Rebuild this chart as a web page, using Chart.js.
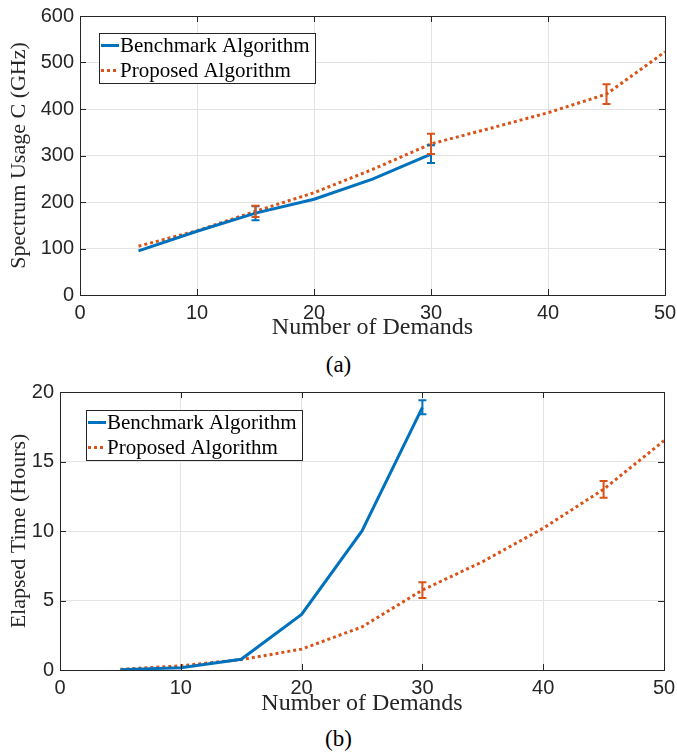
<!DOCTYPE html>
<html>
<head>
<meta charset="utf-8">
<script src="https://cdn.jsdelivr.net/npm/chart.js@4.4.1/dist/chart.umd.min.js"></script>
<style>
  body { margin: 0; background: #fff; width: 677px; height: 754px; position: relative; overflow: hidden; }
  .panel { position: absolute; left: 0; }
  .cap { position: absolute; left: 0; width: 677px; text-align: center;
         font-family: "Liberation Serif", serif; font-size: 23px; color: #000; }
</style>
</head>
<body>
<div class="panel" style="top:0"><canvas id="spectrumChart" width="677" height="345"></canvas></div>
<div class="cap" style="top:352px">(a)</div>
<div class="panel" style="top:375px"><canvas id="timeChart" width="677" height="345"></canvas></div>
<div class="cap" style="top:726px">(b)</div>
<script>
// Data
const demandsBench = [5, 10, 15, 20, 25, 30];
const demandsProp = [5, 10, 15, 20, 25, 30, 35, 40, 45, 50];

const benchSpectrum = [95, 137, 176, 206, 249, 303];
const propSpectrum = [105, 138, 180, 220, 270, 325, 358, 392, 432, 523];
const benchSpectrumErr = [0, 0, 15, 0, 0, 19];
const propSpectrumErr = [0, 0, 12, 0, 0, 22, 0, 0, 21, 0];

const benchTime = [0.02, 0.17, 0.77, 4.0, 10.0, 18.9];
const propTime = [0.05, 0.3, 0.75, 1.5, 3.1, 5.75, 7.8, 10.2, 13.0, 16.5];
const benchTimeErr = [0, 0, 0, 0, 0, 0.5];
const propTimeErr = [0, 0, 0, 0, 0, 0.57, 0, 0, 0.6, 0];

const blue = '#0072BD';
const orange = '#D95319';
const axisColor = '#262626';

function toPoints(xs, ys) {
  return xs.map((x, i) => ({ x: x, y: ys[i] }));
}

// Error bars drawn with the library scales
const errorBarPlugin = {
  id: 'errorBars',
  afterDatasetsDraw(chart) {
    const ctx = chart.ctx;
    const xs = chart.scales.x, ys = chart.scales.y;
    chart.data.datasets.forEach(ds => {
      if (!ds.errorBars) return;
      ctx.save();
      ctx.strokeStyle = ds.borderColor;
      ctx.lineWidth = 2;
      ds.data.forEach((p, i) => {
        const e = ds.errorBars[i];
        if (!e) return;
        const px = xs.getPixelForValue(p.x);
        const top = ys.getPixelForValue(p.y + e);
        const bot = ys.getPixelForValue(p.y - e);
        ctx.beginPath();
        ctx.moveTo(px, top); ctx.lineTo(px, bot);
        ctx.moveTo(px - 4, top); ctx.lineTo(px + 4, top);
        ctx.moveTo(px - 4, bot); ctx.lineTo(px + 4, bot);
        ctx.stroke();
      });
      ctx.restore();
    });
  }
};

// MATLAB style box with inward ticks
const framePlugin = {
  id: 'frame',
  afterDraw(chart) {
    const { ctx, chartArea: a } = chart;
    const xs = chart.scales.x, ys = chart.scales.y;
    ctx.save();
    ctx.strokeStyle = axisColor;
    ctx.lineWidth = 1;
    ctx.strokeRect(a.left + 0.5, a.top + 0.5, a.right - a.left, a.bottom - a.top);
    ctx.beginPath();
    xs.ticks.forEach(t => {
      const px = Math.round(xs.getPixelForValue(t.value)) + 0.5;
      ctx.moveTo(px, a.bottom); ctx.lineTo(px, a.bottom - 6);
      ctx.moveTo(px, a.top); ctx.lineTo(px, a.top + 6);
    });
    ys.ticks.forEach(t => {
      const py = Math.round(ys.getPixelForValue(t.value)) + 0.5;
      ctx.moveTo(a.left, py); ctx.lineTo(a.left + 6, py);
      ctx.moveTo(a.right, py); ctx.lineTo(a.right - 6, py);
    });
    ctx.stroke();
    ctx.restore();
  }
};

// Legend inside the plot area
const boxLegendPlugin = {
  id: 'boxLegend',
  afterDraw(chart, args, opts) {
    const ctx = chart.ctx;
    ctx.save();
    ctx.fillStyle = '#fff';
    ctx.fillRect(opts.x, opts.y, opts.w, opts.h);
    ctx.strokeStyle = axisColor;
    ctx.lineWidth = 1;
    ctx.strokeRect(opts.x + 0.5, opts.y + 0.5, opts.w, opts.h);
    ctx.font = '21px "Liberation Serif"';
    ctx.textBaseline = 'middle';
    chart.data.datasets.forEach((ds, i) => {
      const cy = opts.y + opts.h * (i + 0.5) / 2;
      ctx.strokeStyle = ds.borderColor;
      ctx.lineWidth = 3;
      ctx.setLineDash(ds.borderDash || []);
      ctx.beginPath();
      ctx.moveTo(opts.x + 2, cy); ctx.lineTo(opts.x + 20, cy);
      ctx.stroke();
      ctx.setLineDash([]);
      ctx.fillStyle = '#000';
      ctx.fillText(ds.label, opts.x + 21, cy + 1);
    });
    ctx.restore();
  }
};

function makeChart(id, cfg) {
  return new Chart(document.getElementById(id), {
    type: 'line',
    data: {
      datasets: [{
        label: 'Benchmark Algorithm',
        data: toPoints(demandsBench, cfg.bench),
        errorBars: cfg.benchErr,
        borderColor: blue,
        borderWidth: 3,
        pointRadius: 0,
        tension: 0
      }, {
        label: 'Proposed Algorithm',
        data: toPoints(demandsProp, cfg.prop),
        errorBars: cfg.propErr,
        borderColor: orange,
        borderWidth: 3,
        borderDash: [3, 3],
        pointRadius: 0,
        tension: 0
      }]
    },
    options: {
      responsive: false,
      animation: false,
      devicePixelRatio: 1,
      layout: { padding: { top: cfg.top, right: cfg.right, left: 0, bottom: 0 } },
      plugins: {
        legend: { display: false },
        tooltip: { enabled: false },
        boxLegend: cfg.legend
      },
      scales: {
        x: {
          type: 'linear', min: 0, max: 50,
          ticks: { stepSize: 10, padding: 6, color: axisColor, font: { family: 'Liberation Sans', size: 20 } },
          grid: { color: '#e3e3e3', drawTicks: false },
          border: { display: false },
          title: { display: true, text: 'Number of Demands', color: axisColor,
                   font: { family: 'Liberation Serif', size: 24 }, padding: { top: 0, bottom: cfg.xTitlePad } },
          afterFit: s => { s.height = 50; s.paddingLeft = 0; s.paddingRight = 0; }
        },
        y: {
          min: 0, max: cfg.yMax,
          ticks: { stepSize: cfg.yStep, padding: 6, color: axisColor, font: { family: 'Liberation Sans', size: 20 } },
          grid: { color: '#e3e3e3', drawTicks: false },
          border: { display: false },
          title: { display: true, text: cfg.yTitle, color: axisColor,
                   font: { family: 'Liberation Serif', size: 22 }, padding: { top: 6, bottom: 0 } },
          afterFit: s => { s.width = cfg.yWidth; s.paddingTop = 0; s.paddingBottom = 0; }
        }
      }
    },
    plugins: [errorBarPlugin, framePlugin, boxLegendPlugin]
  });
}

makeChart('spectrumChart', {
  bench: benchSpectrum, prop: propSpectrum,
  benchErr: benchSpectrumErr, propErr: propSpectrumErr,
  yMax: 600, yStep: 100, yTitle: 'Spectrum Usage C (GHz)',
  top: 16, right: 12, yWidth: 80, xTitlePad: 3,
  legend: { x: 99, y: 33, w: 216, h: 50 }
});

makeChart('timeChart', {
  bench: benchTime, prop: propTime,
  benchErr: benchTimeErr, propErr: propTimeErr,
  yMax: 20, yStep: 5, yTitle: 'Elapsed Time (Hours)',
  top: 17, right: 13, yWidth: 60, xTitlePad: 2,
  legend: { x: 86, y: 35, w: 216, h: 50 }
});
</script>
</body>
</html>
